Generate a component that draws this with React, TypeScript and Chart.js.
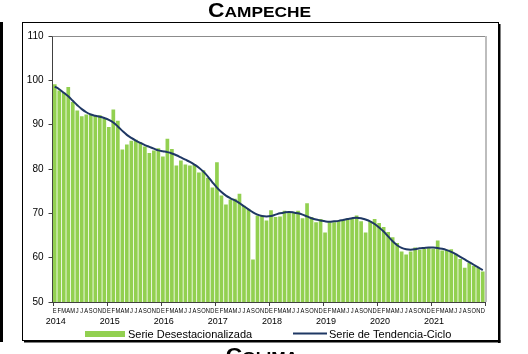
import React, { useEffect, useRef } from 'react';
import { Chart, registerables } from 'chart.js';

Chart.register(...registerables);

const TITLE = 'Campeche';
const NEXT_TITLE = 'Colima';
const YEARS = ['2014', '2015', '2016', '2017', '2018', '2019', '2020', '2021'];
const MONTH_LETTERS = ['E', 'F', 'M', 'A', 'M', 'J', 'J', 'A', 'S', 'O', 'N', 'D'];
const LEGEND_LABELS = ['Serie Desestacionalizada', 'Serie de Tendencia-Ciclo'];
const Y_MIN = 50;
const Y_MAX = 110;
const Y_STEP = 10;

// Serie desestacionalizada (Jan 2014 .. Dec 2021)
const SERIES_DESEST = [
  99.1, 97.7, 97.2, 98.5, 95.1, 93.2, 91.9, 92.3, 92.2, 92.2, 92.1, 91.4,
  89.5, 93.4, 90.9, 84.4, 85.5, 86.4, 86.6, 86.0, 85.1, 83.6, 84.2, 84.7,
  82.8, 86.8, 84.5, 80.8, 81.9, 81.0, 80.8, 81.0, 79.2, 79.7, 78.0, 75.8,
  81.5, 74.0, 72.0, 73.1, 73.3, 74.4, 71.7, 71.0, 59.6, 69.5, 69.4, 68.4,
  70.7, 69.2, 69.3, 70.6, 70.3, 70.3, 70.6, 68.9, 72.3, 69.2, 68.0, 68.7,
  65.7, 68.0, 68.0, 68.3, 68.5, 68.9, 68.9, 69.5, 68.2, 65.7, 68.2, 68.7,
  67.8, 66.9, 65.8, 64.6, 63.3, 61.4, 60.7, 61.4, 62.3, 61.8, 62.0, 62.3,
  62.0, 63.9, 61.6, 61.8, 61.9, 60.9, 59.7, 57.7, 58.8, 58.2, 57.7, 56.9,
];

// Serie de tendencia-ciclo
const SERIES_TENDENCIA = [
  98.6, 98.0, 97.2, 96.4, 95.4, 94.4, 93.5, 92.8, 92.3, 92.0, 91.8, 91.5,
  91.1, 90.5, 89.6, 88.6, 87.7, 87.0, 86.4, 85.9, 85.4, 85.0, 84.6, 84.2,
  84.0, 83.8, 83.5, 83.1, 82.6, 82.1, 81.6, 81.0, 80.3, 79.4, 78.3, 77.0,
  75.8, 74.8, 74.0, 73.4, 72.9, 72.3, 71.6, 70.9, 70.2, 69.7, 69.4, 69.3,
  69.4, 69.7, 70.0, 70.2, 70.3, 70.2, 70.0, 69.7, 69.3, 68.9, 68.6, 68.4,
  68.2, 68.1, 68.2, 68.3, 68.5, 68.7, 68.9, 69.0, 68.9, 68.6, 68.2, 67.6,
  66.8, 65.9, 64.8, 63.7, 62.8, 62.2, 61.9, 61.8, 61.9, 62.1, 62.2, 62.3,
  62.3, 62.2, 62.0, 61.7, 61.3, 60.8, 60.2, 59.6, 59.0, 58.4, 57.8, 57.2,
];

const CATEGORIES: string[] = [];
YEARS.forEach((y) => MONTH_LETTERS.forEach((m) => CATEGORIES.push(m + ' ' + y)));

const FONT = 'Arial, "Liberation Sans", sans-serif';
const BAR_COLOR = '#92D050';
const LINE_COLOR = '#1F3864';

function drawSmallCaps(
  ctx: CanvasRenderingContext2D,
  text: string,
  cx: number,
  baseline: number,
  big: number,
  small: number,
  sx: number
) {
  const first = text.charAt(0).toUpperCase();
  const rest = text.slice(1).toUpperCase();
  ctx.save();
  ctx.fillStyle = '#000';
  ctx.textBaseline = 'alphabetic';
  ctx.textAlign = 'left';
  ctx.font = `bold ${big}px ${FONT}`;
  const w1 = ctx.measureText(first).width;
  ctx.font = `bold ${small}px ${FONT}`;
  const w2 = ctx.measureText(rest).width;
  const total = (w1 + w2) * sx;
  ctx.translate(cx - total / 2, baseline);
  ctx.scale(sx, 1);
  ctx.font = `bold ${big}px ${FONT}`;
  ctx.fillText(first, 0, 0);
  ctx.font = `bold ${small}px ${FONT}`;
  ctx.fillText(rest, w1, 0);
  ctx.restore();
}

const decorPlugin = {
  id: 'decor',
  beforeDraw(chart: any) {
    const ctx = chart.ctx as CanvasRenderingContext2D;
    ctx.save();
    ctx.fillStyle = '#fff';
    ctx.fillRect(0, 0, chart.width, chart.height);
    ctx.restore();
  },
  afterDraw(chart: any) {
    const ctx = chart.ctx as CanvasRenderingContext2D;
    const area = chart.chartArea;
    const xs = chart.scales.x;
    const n = CATEGORIES.length;
    const cat = (area.right - area.left) / n;

    ctx.save();
    // outer frame
    ctx.strokeStyle = '#000';
    ctx.lineWidth = 1;
    ctx.strokeRect(22.5, 22.5, 476, 318);
    ctx.fillStyle = '#000';
    ctx.fillRect(498, 24, 2.5, 319);
    ctx.fillRect(24, 340, 476.5, 2.5);
    // left edge line (neighbouring panel)
    ctx.fillRect(0, 22, 3, 320);

    // plot top and right borders
    ctx.strokeStyle = '#8C8C8C';
    ctx.lineWidth = 1;
    ctx.beginPath();
    ctx.moveTo(area.left, area.top + 0.5);
    ctx.lineTo(area.right, area.top + 0.5);
    ctx.stroke();
    ctx.strokeStyle = '#BDBDBD';
    ctx.lineWidth = 2;
    ctx.beginPath();
    ctx.moveTo(area.right + 1, area.top);
    ctx.lineTo(area.right + 1, area.bottom);
    ctx.stroke();

    // bottom axis line and year ticks
    ctx.strokeStyle = '#404040';
    ctx.lineWidth = 1;
    ctx.beginPath();
    ctx.moveTo(area.left, area.bottom + 0.5);
    ctx.lineTo(area.right + 1, area.bottom + 0.5);
    for (let k = 0; k <= YEARS.length; k++) {
      const x = Math.round(area.left + k * 12 * cat) + 0.5;
      ctx.moveTo(x, area.bottom);
      ctx.lineTo(x, area.bottom + 4);
    }
    ctx.stroke();

    // month letters
    ctx.fillStyle = '#000';
    ctx.textAlign = 'center';
    ctx.textBaseline = 'middle';
    ctx.font = `8px ${FONT}`;
    for (let i = 0; i < n; i++) {
      const x = xs.getPixelForValue(i);
      ctx.save();
      ctx.translate(x, area.bottom + 8.5);
      ctx.scale(0.72, 1);
      ctx.fillText(MONTH_LETTERS[i % 12], 0, 0);
      ctx.restore();
    }
    // year labels
    ctx.font = `9px ${FONT}`;
    YEARS.forEach((y, k) => {
      const x = area.left + k * 12 * cat + cat * 0.7;
      ctx.fillText(y, x, area.bottom + 20);
    });

    // legend
    ctx.fillStyle = BAR_COLOR;
    ctx.fillRect(85, 331, 40, 6);
    ctx.fillStyle = '#000';
    ctx.textAlign = 'left';
    ctx.font = `11px ${FONT}`;
    ctx.fillText(LEGEND_LABELS[0], 128, 334.5);
    ctx.strokeStyle = LINE_COLOR;
    ctx.lineWidth = 2;
    ctx.beginPath();
    ctx.moveTo(293, 333.5);
    ctx.lineTo(327, 333.5);
    ctx.stroke();
    ctx.fillText(LEGEND_LABELS[1], 329, 334.5);

    // titles
    drawSmallCaps(ctx, TITLE, 259.5, 17, 19.5, 14.8, 1.17);
    drawSmallCaps(ctx, NEXT_TITLE, 262, 362, 19.5, 14.8, 1.17);
    ctx.restore();
  },
};

export default function App() {
  const ref = useRef<HTMLCanvasElement | null>(null);

  useEffect(() => {
    if (!ref.current) return;
    const chart = new Chart(ref.current, {
      type: 'bar',
      data: {
        labels: CATEGORIES,
        datasets: [
          {
            type: 'line',
            label: LEGEND_LABELS[1],
            data: SERIES_TENDENCIA,
            borderColor: LINE_COLOR,
            borderWidth: 2,
            pointRadius: 0,
            tension: 0.4,
            fill: false,
            order: 0,
          } as any,
          {
            type: 'bar',
            label: LEGEND_LABELS[0],
            data: SERIES_DESEST,
            backgroundColor: BAR_COLOR,
            borderWidth: 0,
            barPercentage: 0.82,
            categoryPercentage: 1,
            order: 1,
          },
        ],
      },
      options: {
        responsive: false,
        animation: false,
        devicePixelRatio: 1,
        layout: { padding: { left: 0, right: 43, top: 36, bottom: 52 } },
        plugins: {
          legend: { display: false },
          title: { display: false },
          tooltip: { enabled: false },
        },
        scales: {
          x: {
            display: false,
            offset: true,
            grid: { display: false },
          },
          y: {
            min: Y_MIN,
            max: Y_MAX,
            ticks: {
              stepSize: Y_STEP,
              color: '#000',
              padding: 5,
              font: { size: 10, family: FONT },
            },
            grid: {
              drawOnChartArea: false,
              drawTicks: true,
              tickLength: 4,
              color: '#404040',
            },
            border: { display: true, color: '#404040', width: 1 },
            afterFit(scale: any) {
              scale.width = 52.5;
            },
          },
        },
      },
      plugins: [decorPlugin],
    });
    return () => chart.destroy();
  }, []);

  return (
    <div style={{ position: 'fixed', left: 0, top: 0, width: 528, height: 354, background: '#fff' }}>
      <canvas ref={ref} width={528} height={354} style={{ display: 'block', width: 528, height: 354 }} />
    </div>
  );
}
